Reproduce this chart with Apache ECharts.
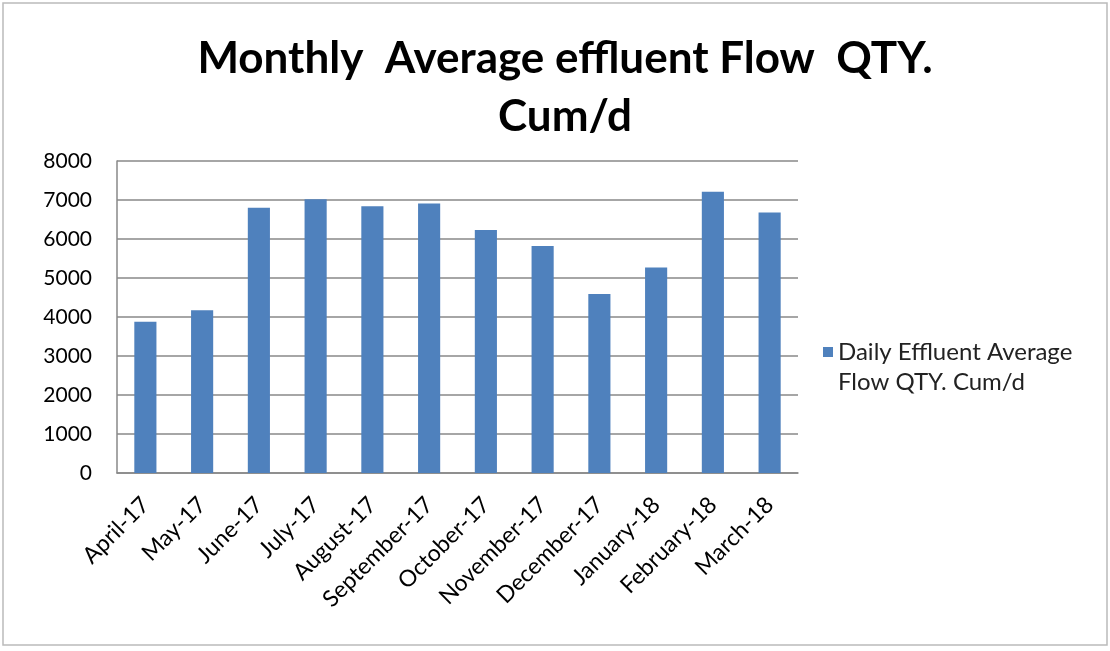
<!DOCTYPE html>
<html>
<head>
<meta charset="utf-8">
<script src="https://cdn.jsdelivr.net/npm/echarts@6/dist/echarts.min.js"></script>
<style>
html,body{margin:0;padding:0;background:#fff;}
#c{width:1110px;height:651px;}
</style>
</head>
<body>
<div id="c"></div>
<script>
const categories = ['April-17','May-17','June-17','July-17','August-17','September-17','October-17','November-17','December-17','January-18','February-18','March-18'];
const flowValues = [3880, 4170, 6800, 7020, 6840, 6910, 6230, 5820, 4590, 5270, 7210, 6680];
const seriesName = 'Daily Effluent Average Flow QTY. Cum/d';
const yTicks = {min: 0, max: 8000, interval: 1000};

const chart = echarts.init(document.getElementById('c'));
chart.setOption({
  animation: false,
  backgroundColor: '#fff',
  textStyle: {fontFamily: 'Lato'},
  title: {
    text: 'Monthly  Average effluent Flow  QTY.\nCum/d',
    left: 560, top: 25, textAlign: 'center',
    textStyle: {fontFamily: 'Lato', fontWeight: 'bold', fontSize: 44, lineHeight: 58, color: '#000'}
  },
  graphic: [{
    type: 'rect', shape: {x: 3, y: 3, width: 1104, height: 642},
    style: {fill: 'none', stroke: '#bbb', lineWidth: 1.5}, silent: true
  }],
  legend: {
    left: 823, top: 337, orient: 'vertical', padding: 0,
    itemWidth: 10, itemHeight: 40, itemGap: 6,
    icon: 'path://M0,0h10v10h-10z M0,39.99h0.01v0.01h-0.01z',
    formatter: () => 'Daily Effluent Average\nFlow QTY. Cum/d',
    textStyle: {fontFamily: 'Lato', fontSize: 24, lineHeight: 30, color: '#222'}
  },
  grid: {left: 117, top: 161, right: 312, bottom: 178, containLabel: false},
  xAxis: {
    type: 'category', data: categories,
    axisLine: {show: true, lineStyle: {color: '#888', width: 1.5}},
    axisTick: {show: false},
    axisLabel: {rotate: 45, fontFamily: 'Lato', fontSize: 23, color: '#000', margin: 28, interval: 0}
  },
  yAxis: {
    type: 'value', min: yTicks.min, max: yTicks.max, interval: yTicks.interval,
    axisLine: {show: true, lineStyle: {color: '#888', width: 1.5}},
    axisTick: {show: false},
    axisLabel: {fontFamily: 'Lato', fontSize: 21, color: '#000', margin: 25, formatter: v => String(v)},
    splitLine: {show: true, lineStyle: {color: '#888', width: 1.5}}
  },
  series: [{
    name: seriesName, type: 'bar', data: flowValues,
    barWidth: '39%',
    itemStyle: {color: '#4f81bd'}
  }]
});
</script>
</body>
</html>
